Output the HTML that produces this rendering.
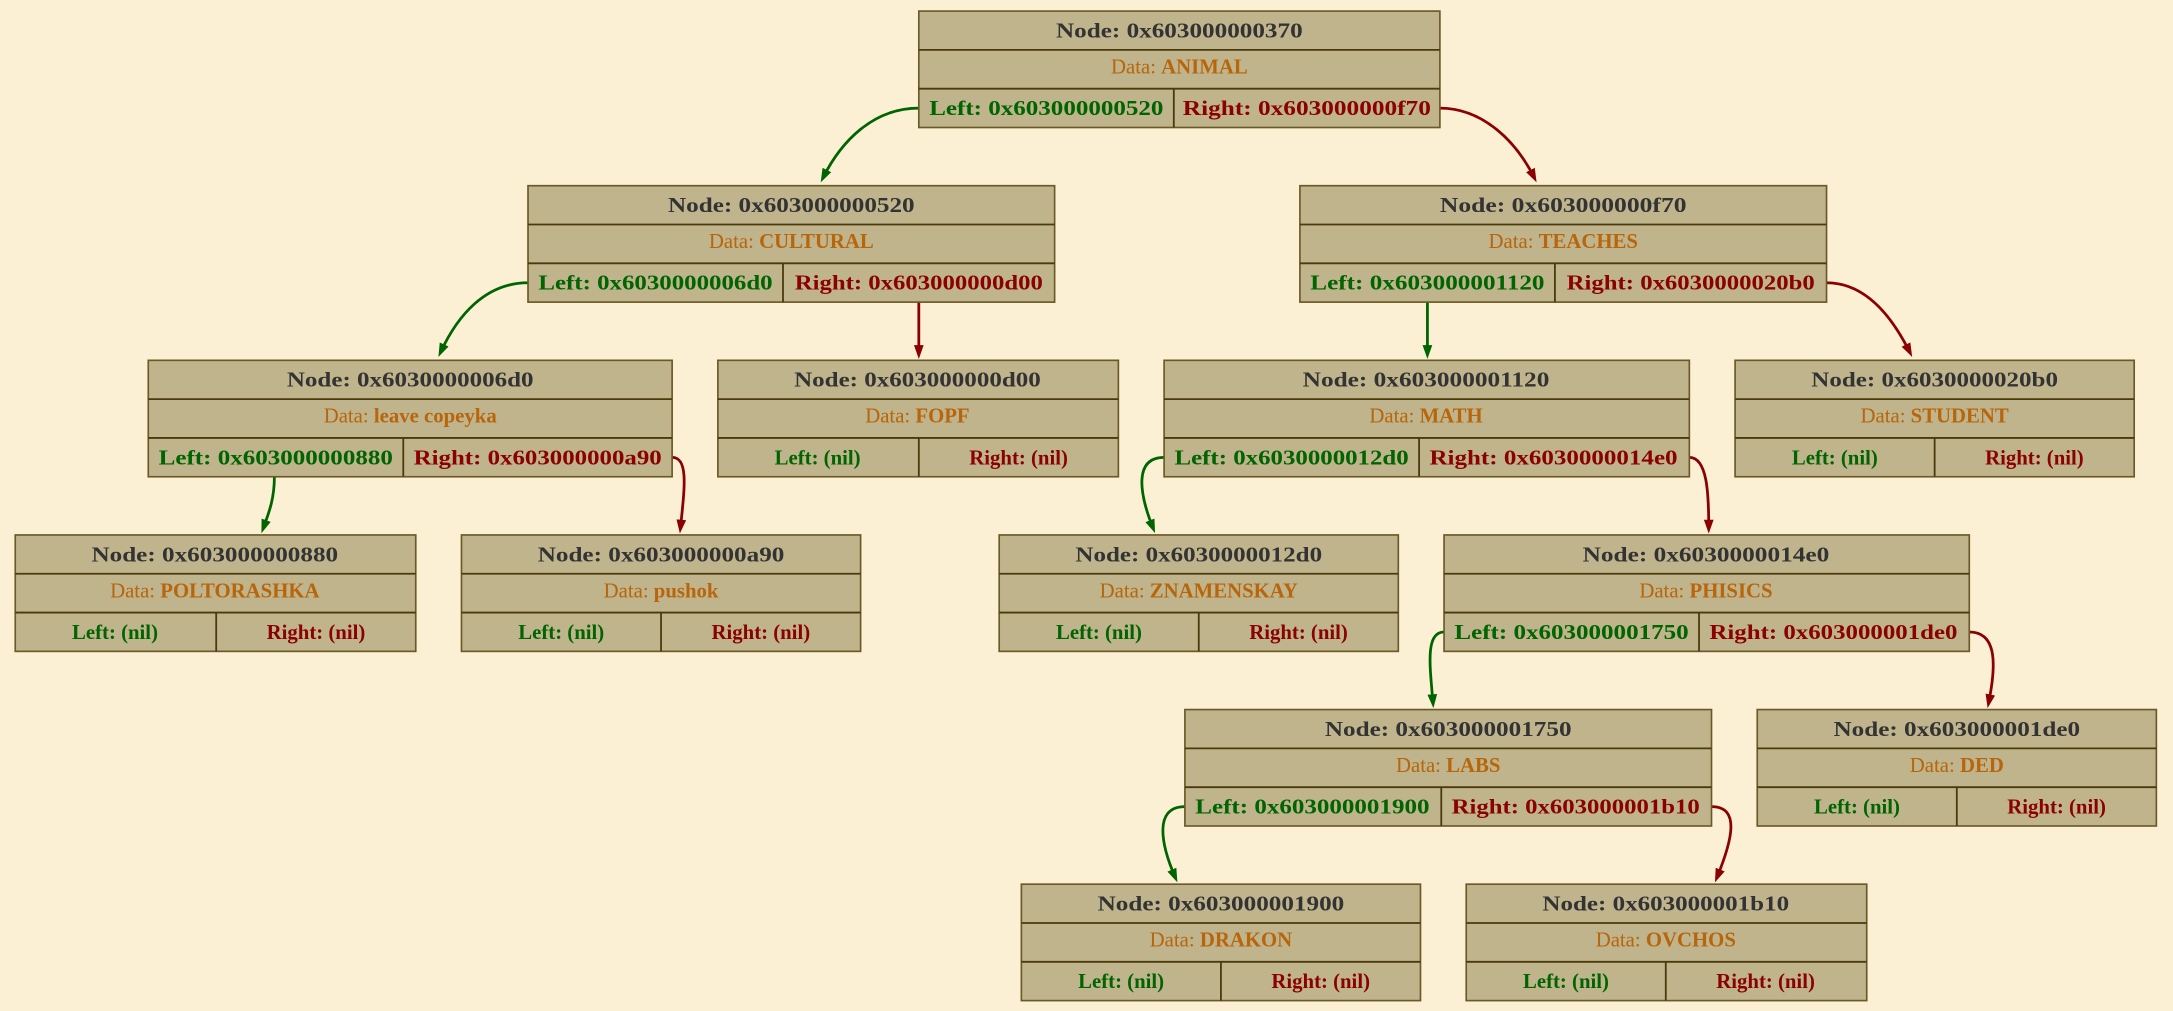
<!DOCTYPE html>
<html><head><meta charset="utf-8"><style>
html,body{margin:0;padding:0;background:#fbf0d4;}
svg{display:block}
text{font-family:"Liberation Serif",serif;font-size:15px;font-weight:bold;text-anchor:middle}
.n{fill:#333333}.d{fill:#b8650b;font-weight:normal}.d tspan{font-weight:bold}
.l{fill:#006400}.r{fill:#8b0000}
rect{fill:#bfb48c;stroke:#6b5a26;stroke-width:1.2}
line.s{stroke:#4a3a0c;stroke-width:1.3}
path.g{fill:none;stroke:#006400;stroke-width:2}
path.rr{fill:none;stroke:#8b0000;stroke-width:2}
</style></head><body>
<svg width="2173" height="1011" viewBox="0 0 1568 729.5" preserveAspectRatio="none" xmlns="http://www.w3.org/2000/svg">
<defs>
<marker id="ag" viewBox="0 0 10 10" refX="6" refY="5" markerWidth="10" markerHeight="10" orient="auto" markerUnits="userSpaceOnUse"><path d="M0,1.5 L10,5 L0,8.5 z" fill="#006400"/></marker>
<marker id="ar" viewBox="0 0 10 10" refX="6" refY="5" markerWidth="10" markerHeight="10" orient="auto" markerUnits="userSpaceOnUse"><path d="M0,1.5 L10,5 L0,8.5 z" fill="#8b0000"/></marker>
</defs>
<rect x="0" y="0" width="1568" height="730" style="fill:#fbf0d4;stroke:none"/>

<path class="g" d="M663,78 C630,78 607,102 594,128" marker-end="url(#ag)"/>
<path class="rr" d="M1039,78 C1070,78 1094,102 1107,128" marker-end="url(#ar)"/>
<path class="g" d="M381,204 C350,204 330,228 318,254" marker-end="url(#ag)"/>
<path class="rr" d="M663,218 L663,255" marker-end="url(#ar)"/>
<path class="g" d="M1030,218 L1030,255" marker-end="url(#ag)"/>
<path class="rr" d="M1318,204 C1346,204 1365,228 1378,254" marker-end="url(#ar)"/>
<path class="g" d="M198,344 C198,360 194,370 190,381" marker-end="url(#ag)"/>
<path class="rr" d="M485,330 C497,330 494,352 491,381" marker-end="url(#ar)"/>
<path class="g" d="M840,330 C818,330 822,356 832,381" marker-end="url(#ag)"/>
<path class="rr" d="M1219,330 C1232,330 1233,356 1233,381" marker-end="url(#ar)"/>
<path class="g" d="M1042,456 C1028,456 1032,482 1034,507" marker-end="url(#ag)"/>
<path class="rr" d="M1421,456 C1442,456 1440,482 1435,507" marker-end="url(#ar)"/>
<path class="g" d="M855,582 C832,582 838,610 848,633" marker-end="url(#ag)"/>
<path class="rr" d="M1235,582 C1256,582 1250,606 1239,633" marker-end="url(#ar)"/>

<g><rect x="663" y="8" width="376" height="84"/><line class="s" x1="663" y1="36" x2="1039" y2="36"/><line class="s" x1="663" y1="64" x2="1039" y2="64"/><line class="s" x1="847" y1="64" x2="847" y2="92"/>
<text class="n" x="851" y="27" textLength="178" lengthAdjust="spacingAndGlyphs">Node: 0x603000000370</text>
<text class="d" x="851" y="53">Data: <tspan>ANIMAL</tspan></text>
<text class="l" x="755" y="83" textLength="169" lengthAdjust="spacingAndGlyphs">Left: 0x603000000520</text>
<text class="r" x="943" y="83" textLength="179" lengthAdjust="spacingAndGlyphs">Right: 0x603000000f70</text></g>

<g><rect x="381" y="134" width="380" height="84"/><line class="s" x1="381" y1="162" x2="761" y2="162"/><line class="s" x1="381" y1="190" x2="761" y2="190"/><line class="s" x1="565" y1="190" x2="565" y2="218"/>
<text class="n" x="571" y="153" textLength="178" lengthAdjust="spacingAndGlyphs">Node: 0x603000000520</text>
<text class="d" x="571" y="179">Data: <tspan>CULTURAL</tspan></text>
<text class="l" x="473" y="209" textLength="169" lengthAdjust="spacingAndGlyphs">Left: 0x6030000006d0</text>
<text class="r" x="663" y="209" textLength="179" lengthAdjust="spacingAndGlyphs">Right: 0x603000000d00</text></g>

<g><rect x="938" y="134" width="380" height="84"/><line class="s" x1="938" y1="162" x2="1318" y2="162"/><line class="s" x1="938" y1="190" x2="1318" y2="190"/><line class="s" x1="1122" y1="190" x2="1122" y2="218"/>
<text class="n" x="1128" y="153" textLength="178" lengthAdjust="spacingAndGlyphs">Node: 0x603000000f70</text>
<text class="d" x="1128" y="179">Data: <tspan>TEACHES</tspan></text>
<text class="l" x="1030" y="209" textLength="169" lengthAdjust="spacingAndGlyphs">Left: 0x603000001120</text>
<text class="r" x="1220" y="209" textLength="179" lengthAdjust="spacingAndGlyphs">Right: 0x6030000020b0</text></g>

<g><rect x="107" y="260" width="378" height="84"/><line class="s" x1="107" y1="288" x2="485" y2="288"/><line class="s" x1="107" y1="316" x2="485" y2="316"/><line class="s" x1="291" y1="316" x2="291" y2="344"/>
<text class="n" x="296" y="279" textLength="178" lengthAdjust="spacingAndGlyphs">Node: 0x6030000006d0</text>
<text class="d" x="296" y="305">Data: <tspan>leave copeyka</tspan></text>
<text class="l" x="199" y="335" textLength="169" lengthAdjust="spacingAndGlyphs">Left: 0x603000000880</text>
<text class="r" x="388" y="335" textLength="179" lengthAdjust="spacingAndGlyphs">Right: 0x603000000a90</text></g>

<g><rect x="518" y="260" width="289" height="84"/><line class="s" x1="518" y1="288" x2="807" y2="288"/><line class="s" x1="518" y1="316" x2="807" y2="316"/><line class="s" x1="663" y1="316" x2="663" y2="344"/>
<text class="n" x="662" y="279" textLength="178" lengthAdjust="spacingAndGlyphs">Node: 0x603000000d00</text>
<text class="d" x="662" y="305">Data: <tspan>FOPF</tspan></text>
<text class="l" x="590" y="335">Left: (nil)</text>
<text class="r" x="735" y="335">Right: (nil)</text></g>

<g><rect x="840" y="260" width="379" height="84"/><line class="s" x1="840" y1="288" x2="1219" y2="288"/><line class="s" x1="840" y1="316" x2="1219" y2="316"/><line class="s" x1="1024" y1="316" x2="1024" y2="344"/>
<text class="n" x="1029" y="279" textLength="178" lengthAdjust="spacingAndGlyphs">Node: 0x603000001120</text>
<text class="d" x="1029" y="305">Data: <tspan>MATH</tspan></text>
<text class="l" x="932" y="335" textLength="169" lengthAdjust="spacingAndGlyphs">Left: 0x6030000012d0</text>
<text class="r" x="1121" y="335" textLength="179" lengthAdjust="spacingAndGlyphs">Right: 0x6030000014e0</text></g>

<g><rect x="1252" y="260" width="288" height="84"/><line class="s" x1="1252" y1="288" x2="1540" y2="288"/><line class="s" x1="1252" y1="316" x2="1540" y2="316"/><line class="s" x1="1396" y1="316" x2="1396" y2="344"/>
<text class="n" x="1396" y="279" textLength="178" lengthAdjust="spacingAndGlyphs">Node: 0x6030000020b0</text>
<text class="d" x="1396" y="305">Data: <tspan>STUDENT</tspan></text>
<text class="l" x="1324" y="335">Left: (nil)</text>
<text class="r" x="1468" y="335">Right: (nil)</text></g>

<g><rect x="11" y="386" width="289" height="84"/><line class="s" x1="11" y1="414" x2="300" y2="414"/><line class="s" x1="11" y1="442" x2="300" y2="442"/><line class="s" x1="156" y1="442" x2="156" y2="470"/>
<text class="n" x="155" y="405" textLength="178" lengthAdjust="spacingAndGlyphs">Node: 0x603000000880</text>
<text class="d" x="155" y="431">Data: <tspan>POLTORASHKA</tspan></text>
<text class="l" x="83" y="461">Left: (nil)</text>
<text class="r" x="228" y="461">Right: (nil)</text></g>

<g><rect x="333" y="386" width="288" height="84"/><line class="s" x1="333" y1="414" x2="621" y2="414"/><line class="s" x1="333" y1="442" x2="621" y2="442"/><line class="s" x1="477" y1="442" x2="477" y2="470"/>
<text class="n" x="477" y="405" textLength="178" lengthAdjust="spacingAndGlyphs">Node: 0x603000000a90</text>
<text class="d" x="477" y="431">Data: <tspan>pushok</tspan></text>
<text class="l" x="405" y="461">Left: (nil)</text>
<text class="r" x="549" y="461">Right: (nil)</text></g>

<g><rect x="721" y="386" width="288" height="84"/><line class="s" x1="721" y1="414" x2="1009" y2="414"/><line class="s" x1="721" y1="442" x2="1009" y2="442"/><line class="s" x1="865" y1="442" x2="865" y2="470"/>
<text class="n" x="865" y="405" textLength="178" lengthAdjust="spacingAndGlyphs">Node: 0x6030000012d0</text>
<text class="d" x="865" y="431">Data: <tspan>ZNAMENSKAY</tspan></text>
<text class="l" x="793" y="461">Left: (nil)</text>
<text class="r" x="937" y="461">Right: (nil)</text></g>

<g><rect x="1042" y="386" width="379" height="84"/><line class="s" x1="1042" y1="414" x2="1421" y2="414"/><line class="s" x1="1042" y1="442" x2="1421" y2="442"/><line class="s" x1="1226" y1="442" x2="1226" y2="470"/>
<text class="n" x="1231" y="405" textLength="178" lengthAdjust="spacingAndGlyphs">Node: 0x6030000014e0</text>
<text class="d" x="1231" y="431">Data: <tspan>PHISICS</tspan></text>
<text class="l" x="1134" y="461" textLength="169" lengthAdjust="spacingAndGlyphs">Left: 0x603000001750</text>
<text class="r" x="1323" y="461" textLength="179" lengthAdjust="spacingAndGlyphs">Right: 0x603000001de0</text></g>

<g><rect x="855" y="512" width="380" height="84"/><line class="s" x1="855" y1="540" x2="1235" y2="540"/><line class="s" x1="855" y1="568" x2="1235" y2="568"/><line class="s" x1="1040" y1="568" x2="1040" y2="596"/>
<text class="n" x="1045" y="531" textLength="178" lengthAdjust="spacingAndGlyphs">Node: 0x603000001750</text>
<text class="d" x="1045" y="557">Data: <tspan>LABS</tspan></text>
<text class="l" x="947" y="587" textLength="169" lengthAdjust="spacingAndGlyphs">Left: 0x603000001900</text>
<text class="r" x="1137" y="587" textLength="179" lengthAdjust="spacingAndGlyphs">Right: 0x603000001b10</text></g>

<g><rect x="1268" y="512" width="288" height="84"/><line class="s" x1="1268" y1="540" x2="1556" y2="540"/><line class="s" x1="1268" y1="568" x2="1556" y2="568"/><line class="s" x1="1412" y1="568" x2="1412" y2="596"/>
<text class="n" x="1412" y="531" textLength="178" lengthAdjust="spacingAndGlyphs">Node: 0x603000001de0</text>
<text class="d" x="1412" y="557">Data: <tspan>DED</tspan></text>
<text class="l" x="1340" y="587">Left: (nil)</text>
<text class="r" x="1484" y="587">Right: (nil)</text></g>

<g><rect x="737" y="638" width="288" height="84"/><line class="s" x1="737" y1="666" x2="1025" y2="666"/><line class="s" x1="737" y1="694" x2="1025" y2="694"/><line class="s" x1="881" y1="694" x2="881" y2="722"/>
<text class="n" x="881" y="657" textLength="178" lengthAdjust="spacingAndGlyphs">Node: 0x603000001900</text>
<text class="d" x="881" y="683">Data: <tspan>DRAKON</tspan></text>
<text class="l" x="809" y="713">Left: (nil)</text>
<text class="r" x="953" y="713">Right: (nil)</text></g>

<g><rect x="1058" y="638" width="289" height="84"/><line class="s" x1="1058" y1="666" x2="1347" y2="666"/><line class="s" x1="1058" y1="694" x2="1347" y2="694"/><line class="s" x1="1202" y1="694" x2="1202" y2="722"/>
<text class="n" x="1202" y="657" textLength="178" lengthAdjust="spacingAndGlyphs">Node: 0x603000001b10</text>
<text class="d" x="1202" y="683">Data: <tspan>OVCHOS</tspan></text>
<text class="l" x="1130" y="713">Left: (nil)</text>
<text class="r" x="1274" y="713">Right: (nil)</text></g>
</svg>
</body></html>
